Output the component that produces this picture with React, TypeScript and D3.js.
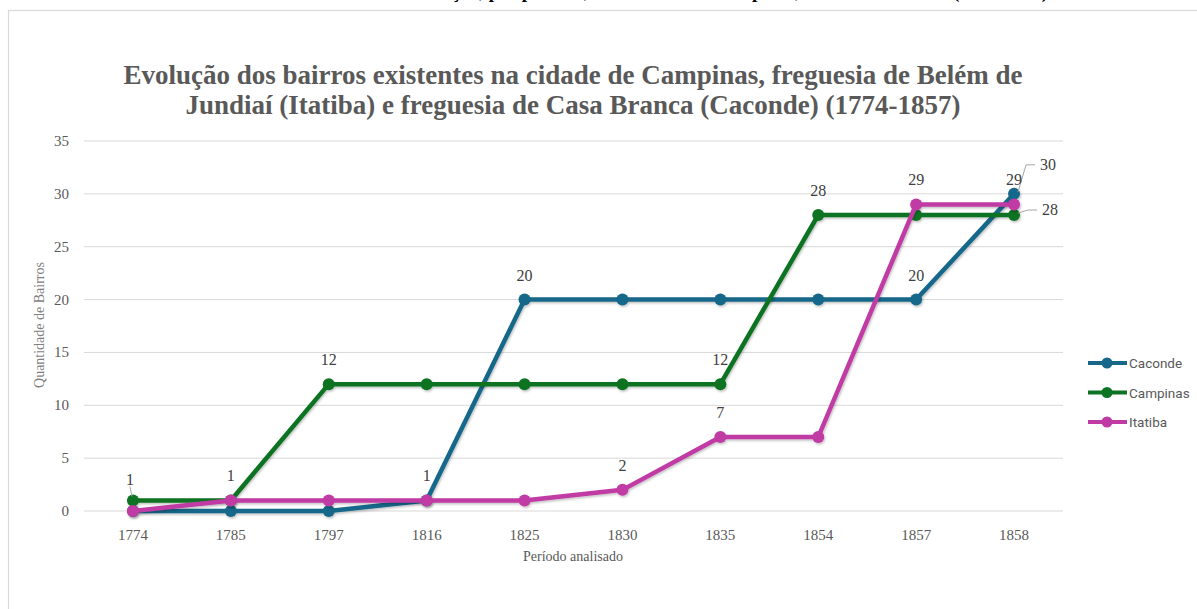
import React from "react";
import * as d3 from "d3";

// periods on the x axis
const periods = ["1774", "1785", "1797", "1816", "1825", "1830", "1835", "1854", "1857", "1858"];

// number of bairros per period
const caconde = [0, 0, 0, 1, 20, 20, 20, 20, 20, 30];
const campinas = [1, 1, 12, 12, 12, 12, 12, 28, 28, 28];
const itatiba = [0, 1, 1, 1, 1, 2, 7, 7, 29, 29];

const yTicks = [0, 5, 10, 15, 20, 25, 30, 35];

// which points carry a data label (index into periods)
const cacondeLabels = [3, 4, 8, 9];
const campinasLabels = [0, 2, 6, 7, 9];
const itatibaLabels = [1, 5, 6, 8, 9];

const seriesList = [
  { name: "Caconde", values: caconde, labels: cacondeLabels, color: "#17678a" },
  { name: "Campinas", values: campinas, labels: campinasLabels, color: "#0c7322" },
  { name: "Itatiba", values: itatiba, labels: itatibaLabels, color: "#c03aa4" },
];

const W = 1197;
const H = 609;
const serif = "'Liberation Serif', 'DejaVu Serif', serif";

const App = () => {
  const x = d3.scaleBand().domain(periods).range([84, 1063]);
  const cx = (p: string) => (x(p) ?? 0) + x.bandwidth() / 2;
  const y = d3.scaleLinear().domain([0, 35]).range([511, 141]);

  const line = d3
    .line<number>()
    .x((d, i) => cx(periods[i]))
    .y((d) => y(d));

  // labels drawn away from the point with a leader line
  const leader: Record<string, { dx: number; dy: number }> = {
    "Caconde-9": { dx: 26, dy: -29 },
    "Campinas-9": { dx: 28, dy: -5 },
    "Campinas-0": { dx: -3, dy: -20 },
  };

  return (
    <svg width={W} height={H} style={{ position: "absolute", left: 0, top: 0 }}>
      <defs>
        <filter id="shadow" x="-5%" y="-5%" width="110%" height="110%">
          <feDropShadow dx="1" dy="1.5" stdDeviation="1.2" floodColor="#000" floodOpacity="0.25" />
        </filter>
      </defs>
      <rect x={0} y={0} width={W} height={H} fill="#fff" />
      {/* caption of the page, cut by the top edge */}
      <text x={680} y={-2} textAnchor="middle" fontFamily={serif} fontWeight="bold" fontSize={19} fill="#000">
        Gráfico 4 - Evolução, por período, dos bairros de Campinas, Itatiba e Caconde (1774-1857)
      </text>
      <rect x={8.5} y={10.5} width={1300} height={700} fill="#fff" stroke="#d9d9d9" strokeWidth={1.2} />

      <g fontFamily={serif} fill="#595959" fontWeight="bold" fontSize={27} textAnchor="middle">
        <text x={573} y={84}>Evolução dos bairros existentes na cidade de Campinas, freguesia de Belém de</text>
        <text x={573} y={114}>Jundiaí (Itatiba) e freguesia de Casa Branca (Caconde) (1774-1857)</text>
      </g>

      {/* grid and y ticks */}
      {yTicks.map((t) => (
        <g key={t}>
          <line x1={84} x2={1063} y1={y(t)} y2={y(t)} stroke="#d9d9d9" strokeWidth={1} />
          <text x={69} y={y(t) + 5} textAnchor="end" fontFamily={serif} fontSize={15} fill="#595959">
            {t}
          </text>
        </g>
      ))}

      {periods.map((p) => (
        <text key={p} x={cx(p)} y={540} textAnchor="middle" fontFamily={serif} fontSize={15} fill="#595959">
          {p}
        </text>
      ))}

      <text
        transform={`translate(44,325) rotate(-90)`}
        textAnchor="middle"
        fontFamily={serif}
        fontSize={14}
        fill="#7f7f7f"
      >
        Quantidade de Bairros
      </text>
      <text x={573} y={561} textAnchor="middle" fontFamily={serif} fontSize={14} fill="#595959">
        Período analisado
      </text>

      {/* series */}
      {seriesList.map((s) => (
        <g key={s.name} filter="url(#shadow)">
          <path d={line(s.values) ?? ""} fill="none" stroke={s.color} strokeWidth={4.5} strokeLinejoin="round" />
          {s.values.map((v, i) => (
            <circle key={i} cx={cx(periods[i])} cy={y(v)} r={6} fill={s.color} />
          ))}
        </g>
      ))}

      {/* data labels */}
      {seriesList.map((s) =>
        s.labels.map((i) => {
          const px = cx(periods[i]);
          const py = y(s.values[i]);
          const off = leader[`${s.name}-${i}`];
          if (off) {
            const lx = px + off.dx;
            const ly = py + off.dy;
            const vertical = s.name === "Campinas" && i === 0;
            return (
              <g key={`${s.name}-${i}`}>
                {vertical ? (
                  <line x1={px - 1} y1={py - 4} x2={px - 3} y2={py - 14} stroke="#a6a6a6" strokeWidth={1} />
                ) : (
                  <polyline
                    points={`${px + 4},${py - 2} ${lx - 14},${ly} ${lx - 5},${ly}`}
                    fill="none"
                    stroke="#a6a6a6"
                    strokeWidth={1}
                  />
                )}
                <text
                  x={vertical ? lx : lx + 8}
                  y={ly + 5}
                  textAnchor="middle"
                  fontFamily={serif}
                  fontSize={16}
                  fill="#404040"
                >
                  {s.values[i]}
                </text>
              </g>
            );
          }
          return (
            <text
              key={`${s.name}-${i}`}
              x={px}
              y={py - 19}
              textAnchor="middle"
              fontFamily={serif}
              fontSize={16}
              fill="#404040"
            >
              {s.values[i]}
            </text>
          );
        })
      )}

      {/* legend */}
      {seriesList.map((s, k) => {
        const ly = 363 + k * 29.5;
        return (
          <g key={s.name}>
            <line x1={1088} x2={1127} y1={ly} y2={ly} stroke={s.color} strokeWidth={4} />
            <circle cx={1107} cy={ly} r={5.5} fill={s.color} />
            <text x={1129} y={ly + 5} fontFamily="Roboto, sans-serif" fontSize={13.5} fill="#595959">
              {s.name}
            </text>
          </g>
        );
      })}
    </svg>
  );
};

export default App;
